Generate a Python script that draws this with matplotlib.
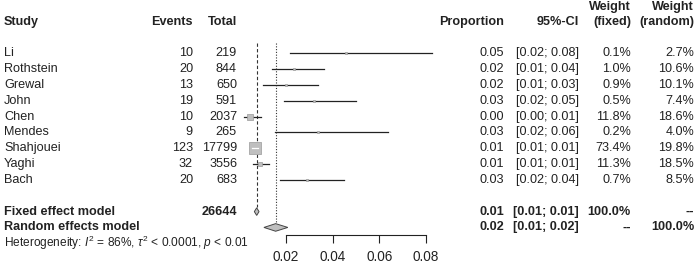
import matplotlib.pyplot as plt
import numpy as np
from matplotlib.patches import Polygon

plt.rcParams['font.family'] = ['Liberation Sans', 'DejaVu Sans']
plt.rcParams['mathtext.fontset'] = 'custom'
plt.rcParams['mathtext.rm'] = 'Liberation Sans'
plt.rcParams['mathtext.it'] = 'Liberation Sans:italic'

### data
studies = ["Li", "Rothstein", "Grewal", "John", "Chen", "Mendes", "Shahjouei", "Yaghi", "Bach"]
events = [10, 20, 13, 19, 10, 9, 123, 32, 20]
totals = [219, 844, 650, 591, 2037, 265, 17799, 3556, 683]
prop = [0.0458, 0.0235, 0.0200, 0.0320, 0.0049, 0.0337, 0.0069, 0.0090, 0.0293]
ci_lo = [0.0218, 0.0143, 0.0102, 0.0191, 0.0022, 0.0156, 0.0057, 0.0062, 0.0176]
ci_hi = [0.0827, 0.0362, 0.0339, 0.0499, 0.0093, 0.0636, 0.0082, 0.0127, 0.0449]
w_fixed = [0.1, 1.0, 0.9, 0.5, 11.8, 0.2, 73.4, 11.3, 0.7]
w_random = [2.7, 10.6, 10.1, 7.4, 18.6, 4.0, 19.8, 18.5, 8.5]

fixed = (0.0076, 0.0066, 0.0086)   # est, lo, hi
random_ = (0.0157, 0.0107, 0.0209)
total_n = 26644
ticks = [0.02, 0.04, 0.06, 0.08]
tick_labels = ["0.02", "0.04", "0.06", "0.08"]
hetero = r"Heterogeneity: $\mathit{I}^2$ = 86%, $\tau^2$ < 0.0001, $\mathit{p}$ < 0.01"

W, H = 698, 264
px_per_unit = 2340.0
fig = plt.figure(figsize=(W / 100, H / 100), dpi=100)
ylo, yhi = 14.31, -2.37

# table part: x in pixels, y in rows
tab = fig.add_axes([0, 0, 1, 1])
tab.set_xlim(0, W)
tab.set_ylim(ylo, yhi)
tab.axis('off')

# forest part
fp = fig.add_axes([238.9 / W, 0, 0.1 * px_per_unit / W, 1])
fp.set_xlim(0, 0.1)
fp.set_ylim(ylo, yhi)
fp.patch.set_visible(False)
for s in ['top', 'left', 'right']:
    fp.spines[s].set_visible(False)
fp.spines['bottom'].set_position(('data', 12.48))
fp.spines['bottom'].set_bounds(ticks[0], ticks[-1])
fp.spines['bottom'].set_color('#222222')
fp.set_yticks([])
fp.set_xticks(ticks)
fp.set_xticklabels(tick_labels)
fp.tick_params(axis='x', length=6, width=0.8, pad=5, labelsize=9.8, colors='#222222')

fs = 9.1
col = '#222222'
rows = np.arange(1, len(studies) + 1)
fixed_row, random_row, het_row = 11, 12, 13

# headers
hdr = dict(fontsize=fs, fontweight='bold', va='center', color=col)
tab.text(4, -1, "Study", ha='left', **hdr)
tab.text(193, -1, "Events", ha='right', **hdr)
tab.text(237, -1, "Total", ha='right', **hdr)
tab.text(504, -1, "Proportion", ha='right', **hdr)
tab.text(579, -1, "95%-CI", ha='right', **hdr)
tab.text(631, -1.95, "Weight", ha='right', **hdr)
tab.text(631, -1, "(fixed)", ha='right', **hdr)
tab.text(694, -1.95, "Weight", ha='right', **hdr)
tab.text(694, -1, "(random)", ha='right', **hdr)

# study rows
for i, r in enumerate(rows):
    kw = dict(fontsize=fs, va='center', color=col)
    tab.text(4, r, studies[i], ha='left', **kw)
    tab.text(193, r, str(events[i]), ha='right', **kw)
    tab.text(237, r, str(totals[i]), ha='right', **kw)
    tab.text(504, r, f"{prop[i]:.2f}", ha='right', **kw)
    tab.text(579, r, f"[{ci_lo[i]:.2f}; {ci_hi[i]:.2f}]", ha='right', **kw)
    tab.text(631, r, f"{w_fixed[i]:.1f}%", ha='right', **kw)
    tab.text(694, r, f"{w_random[i]:.1f}%", ha='right', **kw)

# summary rows
bkw = dict(fontsize=fs, va='center', fontweight='bold', color=col)
tab.text(4, fixed_row, "Fixed effect model", ha='left', **bkw)
tab.text(237, fixed_row, str(total_n), ha='right', **bkw)
tab.text(504, fixed_row, f"{fixed[0]:.2f}", ha='right', **bkw)
tab.text(579, fixed_row, f"[{fixed[1]:.2f}; {fixed[2]:.2f}]", ha='right', **bkw)
tab.text(631, fixed_row, "100.0%", ha='right', **bkw)
tab.text(694, fixed_row, "--", ha='right', **bkw)
tab.text(4, random_row, "Random effects model", ha='left', **bkw)
tab.text(504, random_row, f"{random_[0]:.2f}", ha='right', **bkw)
tab.text(579, random_row, f"[{random_[1]:.2f}; {random_[2]:.2f}]", ha='right', **bkw)
tab.text(631, random_row, "--", ha='right', **bkw)
tab.text(694, random_row, "100.0%", ha='right', **bkw)
tab.text(4, het_row, hetero, ha='left', va='center', fontsize=8.6, color=col)

# reference lines
fp.plot([fixed[0], fixed[0]], [0.33, 10.7], ls=(0, (3, 2)), color='#333333', lw=0.8)
fp.plot([random_[0], random_[0]], [0.33, 11.72], ls=(0, (1, 1.5)), color='#333333', lw=0.8)

# confidence intervals and squares
max_side_px = 12.5
for i, r in enumerate(rows):
    side_px = max(max_side_px * np.sqrt(w_fixed[i] / max(w_fixed)), 2.5)
    fp.plot([ci_lo[i], ci_hi[i]], [r, r], color='#222222', lw=0.9, zorder=2, clip_on=False)
    fp.scatter([prop[i]], [r], marker='s', s=(side_px * 0.72) ** 2, color='#bfbfbf',
               edgecolor='#9a9a9a', linewidth=0.5, zorder=3, clip_on=False)
    if (ci_hi[i] - ci_lo[i]) * px_per_unit < side_px:
        fp.plot([ci_lo[i], ci_hi[i]], [r, r], color='white', lw=0.9, zorder=4)

# diamonds
for (est, lo, hi), r in [(fixed, fixed_row), (random_, random_row)]:
    h = 0.24
    fp.add_patch(Polygon([[lo, r], [est, r - h], [hi, r], [est, r + h]], closed=True,
                         facecolor='#bfbfbf', edgecolor='#444444', lw=0.7, zorder=3))

fig.savefig('out.png', dpi=100)
